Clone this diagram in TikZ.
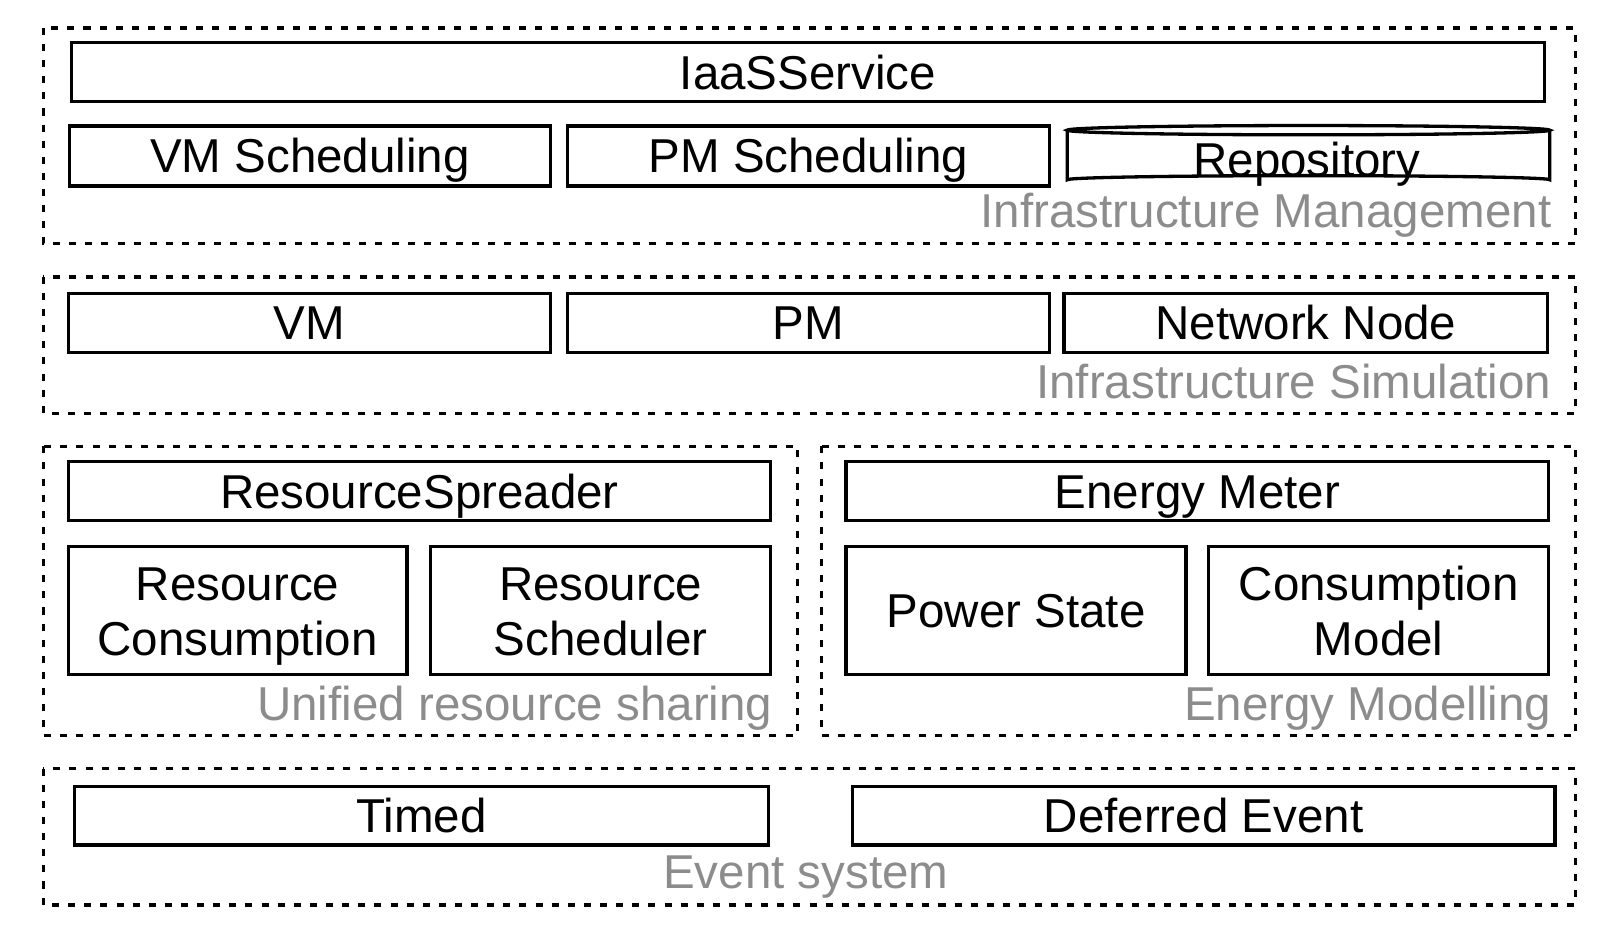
\documentclass[tikz,border=0pt]{standalone}
\usepackage{fontspec}
\setmainfont{Liberation Sans}
\usepackage{tikz}

\begin{document}
\begin{tikzpicture}[x=0.5pt,y=0.5pt,yscale=-1,font=\fontsize{23}{27}\selectfont,
  grp/.style={line width=1.6pt,dash pattern=on 3.4pt off 4.4pt},
  blk/.style={line width=1.6pt},
  txt/.style={anchor=base,inner sep=0pt},
  lbl/.style={anchor=base east,inner sep=0pt,text=black!45}]
\path (0,0) rectangle (1570,917.6); %set diagram size

%Dotted Rectangles
\draw [grp] (42,27) rectangle (1525,236);
\draw [grp] (42,268) rectangle (1525,400);
\draw [grp] (42,432) rectangle (772,712);
\draw [grp] (795,432) rectangle (1525,712);
\draw [grp] (42,744) rectangle (1525,876);

%Shape: Rectangle
\draw [blk] (69,41) rectangle (1495,98);
\draw [blk] (67,122) rectangle (533,180);
\draw [blk] (549,122) rectangle (1016,180);
%Shape: Can
\draw [blk] (1033,126) -- (1033,174) arc [start angle=180,end angle=360,x radius=233.5,y radius=4] -- (1500,126);
\draw [blk] (1266.5,126) ellipse [x radius=233.5,y radius=4.5];
%Shape: Rectangle
\draw [blk] (66,284) rectangle (533,341);
\draw [blk] (549,284) rectangle (1016,341);
\draw [blk] (1030,284) rectangle (1498,341);
\draw [blk] (66,447) rectangle (746,504);
\draw [blk] (66,529) rectangle (394,653);
\draw [blk] (417,529) rectangle (746,653);
\draw [blk] (819,447) rectangle (1499,504);
\draw [blk] (819,529) rectangle (1148,653);
\draw [blk] (1170,529) rectangle (1499,653);
\draw [blk] (72,761) rectangle (744,818);
\draw [blk] (825,761) rectangle (1505,818);

% Text Node
\draw (782,87) node [txt] (iaas) {IaaSService};
\draw (300,167) node [txt] (vmsched) {VM Scheduling};
\draw (782.5,167) node [txt] (pmsched) {PM Scheduling};
\draw (1265,171) node [txt] (repo) {Repository};
\draw (1502,220) node [lbl] (infman) {Infrastructure Management};
% Text Node
\draw (299.5,329) node [txt] (vm) {VM};
\draw (782.5,329) node [txt] (pm) {PM};
\draw (1264,329) node [txt] (netnode) {Network Node};
\draw (1502,386) node [lbl] (infsim) {Infrastructure Simulation};
% Text Node
\draw (406,492) node [txt] (spreader) {ResourceSpreader};
\draw (230,581.5) node [txt] (rescons) {Resource};
\draw (230,634.5) node [txt] (rescons2) {Consumption};
\draw (581.5,581.5) node [txt] (ressched) {Resource};
\draw (581.5,634.5) node [txt] (ressched2) {Scheduler};
\draw (748,697) node [lbl] (unified) {Unified resource sharing};
% Text Node
\draw (1159,492) node [txt] (meter) {Energy Meter};
\draw (983.5,607.5) node [txt] (powstate) {Power State};
\draw (1334.5,581.5) node [txt] (consmodel) {Consumption};
\draw (1334.5,634.5) node [txt] (consmodel2) {Model};
\draw (1502,697) node [lbl] (energy) {Energy Modelling};
% Text Node
\draw (408,806) node [txt] (timed) {Timed};
\draw (1165,806) node [txt] (deferred) {Deferred Event};
\draw (780,860) node [txt,text=black!45] (events) {Event system};

\end{tikzpicture}
\end{document}
